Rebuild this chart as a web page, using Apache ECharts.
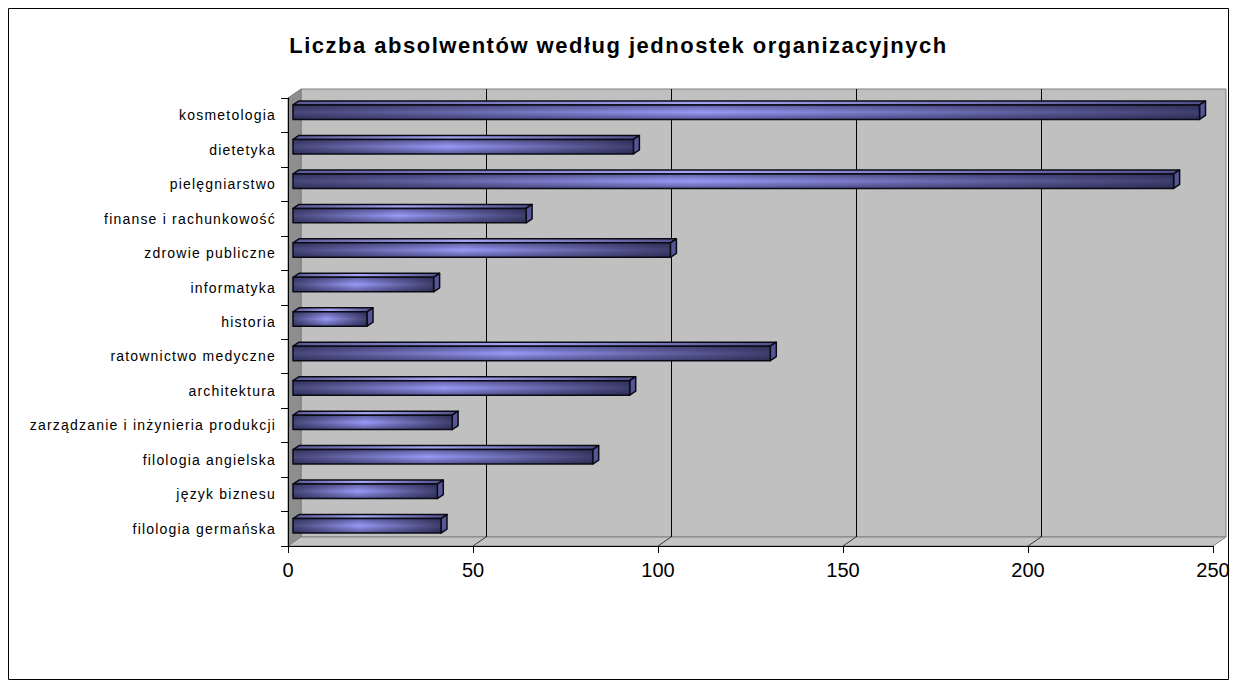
<!DOCTYPE html>
<html><head><meta charset="utf-8">
<script src="https://cdn.jsdelivr.net/npm/echarts@6/dist/echarts.min.js"></script>
<style>
html,body{margin:0;padding:0;background:#fff}
#c{width:1237px;height:688px}
#c text[style*="bold"]{letter-spacing:1.5px}
#c text[style*="14px"]{letter-spacing:1.2px}
</style>
</head><body><div id="c"></div>
<script>
// Data (bottom to top, as ECharts draws a category y axis)
const categories = ['filologia germańska','język biznesu','filologia angielska','zarządzanie i inżynieria produkcji','architektura','ratownictwo medyczne','historia','informatyka','zdrowie publiczne','finanse i rachunkowość','pielęgniarstwo','dietetyka','kosmetologia'];
const values = [40, 39, 81, 43, 91, 129, 20, 38, 102, 63, 238, 92, 245];
const xTicks = [0, 50, 100, 150, 200, 250];
const titleText = 'Liczba absolwentów według jednostek organizacyjnych';

const DX = 13, DY = -9;           // depth of the 3D box
const BOX = 5, BOY = -3;          // bar front plane offset
const BDX = 6, BDY = -4;          // bar depth
const FONT = 'Arial, "Liberation Sans", sans-serif';

const chart = echarts.init(document.getElementById('c'), null, {renderer: 'svg'});

function crisp(v) { return Math.round(v) + 0.5; }

function wallsRender(params, api) {
  const n = categories.length;
  const band = api.size([0, 1])[1];
  const x0 = api.coord([xTicks[0], 0])[0];
  const x1 = api.coord([xTicks[xTicks.length - 1], 0])[0];
  const bottom = api.coord([0, 0])[1] + band / 2;
  const top = api.coord([0, n - 1])[1] - band / 2;
  const children = [];
  children.push({type: 'rect', shape: {x: x0 + DX, y: top + DY, width: x1 - x0, height: bottom - top},
    style: {fill: '#c0c0c0', stroke: '#808080', lineWidth: 1}});
  children.push({type: 'polygon', shape: {points: [[x0, top], [x0 + DX, top + DY], [x0 + DX, bottom + DY], [x0, bottom]]},
    style: {fill: '#8e8e8e', stroke: '#7a7a7a', lineWidth: 1}});
  children.push({type: 'polygon', shape: {points: [[x0, bottom], [x0 + DX, bottom + DY], [x1 + DX, bottom + DY], [x1, bottom]]},
    style: {fill: '#c4c4c4', stroke: '#808080', lineWidth: 1}});
  xTicks.forEach(function (t, i) {
    if (i === 0 || i === xTicks.length - 1) return;
    const x = api.coord([t, 0])[0];
    const gx = crisp(x + DX);
    children.push({type: 'line', shape: {x1: gx, y1: top + DY, x2: gx, y2: bottom + DY},
      style: {stroke: '#000', lineWidth: 1}});
    children.push({type: 'line', shape: {x1: x, y1: bottom, x2: x + DX, y2: bottom + DY},
      style: {stroke: '#333', lineWidth: 1}});
  });
  return {type: 'group', children: children};
}

function barRender(params, api) {
  const v = api.value(0), c = api.value(1);
  const s = api.coord([0, c]), e = api.coord([v, c]);
  const band = api.size([0, 1])[1];
  const h = band * 0.42;
  const xa = s[0] + BOX, xb = e[0] + BOX, yc = s[1] + BOY;
  const yt = yc - h / 2, yb = yc + h / 2;
  const frontGrad = new echarts.graphic.LinearGradient(0, 0, 1, 0, [
    {offset: 0, color: '#474779'}, {offset: 0.45, color: '#9a9af8'}, {offset: 1, color: '#3f3f6e'}]);
  const topGrad = new echarts.graphic.LinearGradient(0, 0, 1, 0, [
    {offset: 0, color: '#5a5a96'}, {offset: 0.45, color: '#a4a4f4'}, {offset: 1, color: '#50508a'}]);
  const shade = new echarts.graphic.LinearGradient(0, 0, 0, 1, [
    {offset: 0, color: 'rgba(25,25,60,0.45)'}, {offset: 0.5, color: 'rgba(25,25,60,0)'}, {offset: 1, color: 'rgba(25,25,60,0.5)'}]);
  const stroke = {stroke: '#0a0a14', lineWidth: 1.5, lineJoin: 'round'};
  return {type: 'group', children: [
    {type: 'polygon', shape: {points: [[xa, yt], [xa + BDX, yt + BDY], [xb + BDX, yt + BDY], [xb, yt]]},
      style: Object.assign({fill: topGrad}, stroke)},
    {type: 'polygon', shape: {points: [[xb, yt], [xb + BDX, yt + BDY], [xb + BDX, yb + BDY], [xb, yb]]},
      style: Object.assign({fill: '#565696'}, stroke)},
    {type: 'rect', shape: {x: xa, y: yt, width: xb - xa, height: h}, style: {fill: frontGrad}},
    {type: 'rect', shape: {x: xa, y: yt, width: xb - xa, height: h}, style: {fill: shade}},
    {type: 'rect', shape: {x: xa, y: yt, width: xb - xa, height: h}, style: Object.assign({fill: 'none'}, stroke)}
  ]};
}

chart.setOption({
  animation: false,
  backgroundColor: '#fff',
  title: {text: titleText, left: 'center', top: 29,
    textStyle: {fontFamily: FONT, fontSize: 22, fontWeight: 'bold', color: '#000'}},
  graphic: [{type: 'rect', shape: {x: 8.5, y: 8.5, width: 1220, height: 671}, style: {fill: 'none', stroke: '#000', lineWidth: 1}, silent: true}],
  grid: {left: 288, right: 24, top: 98, bottom: 142, containLabel: false},
  xAxis: {type: 'value', min: xTicks[0], max: xTicks[xTicks.length - 1], interval: 50, z: 5,
    axisLine: {show: true, lineStyle: {color: '#000', width: 1}},
    axisTick: {show: true, length: 7, lineStyle: {color: '#000'}},
    axisLabel: {fontFamily: FONT, fontSize: 20, color: '#000', margin: 14},
    splitLine: {show: false}},
  yAxis: {type: 'category', data: categories, z: 5,
    axisLine: {show: true, lineStyle: {color: '#000', width: 1}},
    axisTick: {show: true, length: 7, lineStyle: {color: '#000'}},
    axisLabel: {fontFamily: FONT, fontSize: 14, color: '#000', margin: 12},
    splitLine: {show: false}},
  series: [
    {type: 'custom', name: 'walls', z: 1, clip: false, silent: true, data: [[0, 0]], renderItem: wallsRender},
    {type: 'custom', name: 'absolwenci', z: 3, clip: false,
      encode: {x: 0, y: 1},
      data: values.map(function (v, i) { return [v, i]; }), renderItem: barRender}
  ]
});
</script>
</body></html>
